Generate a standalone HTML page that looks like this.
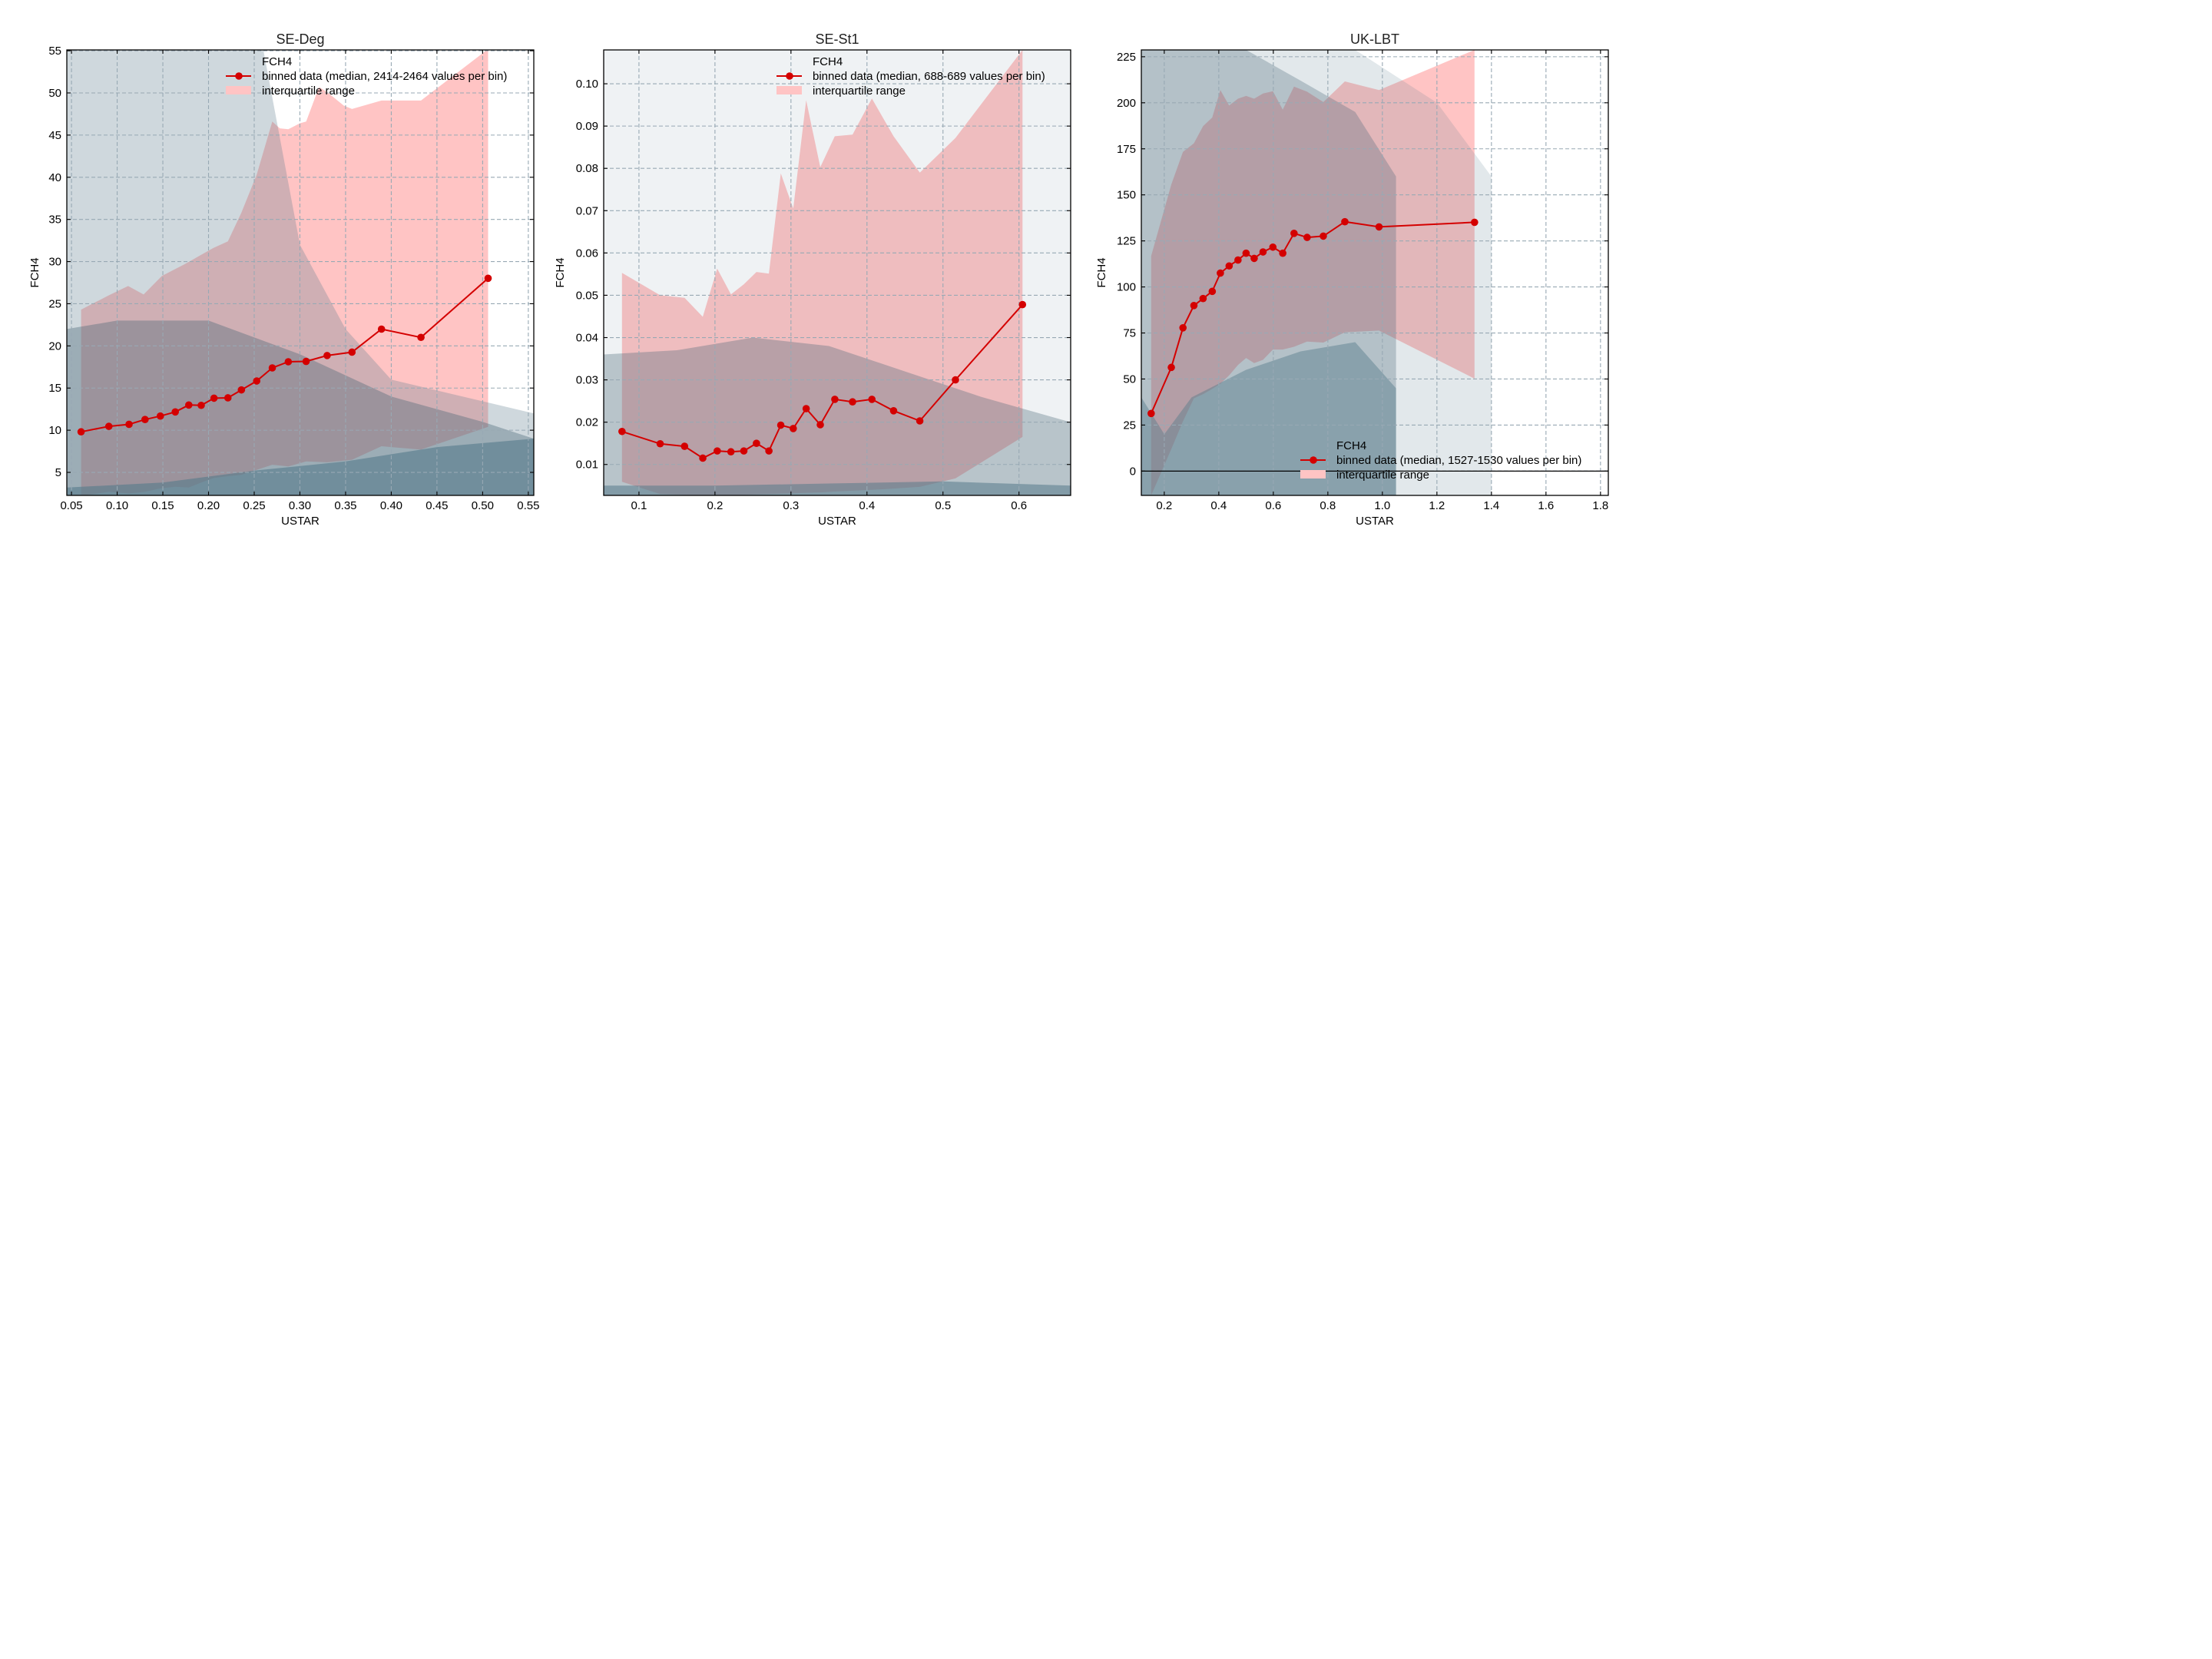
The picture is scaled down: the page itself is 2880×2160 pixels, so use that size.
<!DOCTYPE html>
<html><head><meta charset="utf-8"><title>FCH4 vs USTAR</title>
<style>
html,body{margin:0;padding:0;background:#fff;}
svg{display:block;font-family:"Liberation Sans",Arial,sans-serif;}
</style></head>
<body>
<svg id="fig" width="2880" height="2160" viewBox="0 0 2880 2160" xmlns="http://www.w3.org/2000/svg">
<rect x="0" y="0" width="2880" height="2160" fill="#ffffff"/>
</svg>
<script>
// ---------- Panel 1: SE-Deg ----------
const p1Title = "SE-Deg";
const p1Legend = "binned data (median, 2414-2464 values per bin)";
const p1X = [0.0605,0.0909,0.113,0.1305,0.1473,0.1636,0.1784,0.192,0.206,0.2212,0.236,0.2527,0.2698,0.2873,0.3068,0.3298,0.357,0.3893,0.4325,0.506];
const p1Median = [9.81,10.46,10.70,11.27,11.68,12.17,12.99,12.95,13.80,13.84,14.78,15.84,17.39,18.12,18.16,18.86,19.26,21.99,21.01,28.02];
const p1Q3X = [0.0605,0.0909,0.112,0.129,0.149,0.174,0.205,0.2212,0.236,0.2527,0.2698,0.278,0.2873,0.300,0.3068,0.321,0.3298,0.348,0.357,0.3893,0.4325,0.506];
const p1Q3 = [24.3,26.0,27.1,26.1,28.3,29.7,31.6,32.4,35.8,40.3,46.6,45.8,45.7,46.4,46.6,50.7,50.1,48.5,48.1,49.1,49.1,55.2];
const p1Q1 = [2.2,2.7,2.5,2.7,3.1,3.3,3.2,3.8,4.35,4.55,4.7,5.3,5.9,5.7,6.3,6.2,6.5,8.1,7.7,10.4];
const p1XTicks = [0.05,0.10,0.15,0.20,0.25,0.30,0.35,0.40,0.45,0.50,0.55];
const p1XTickLabels = ["0.05","0.10","0.15","0.20","0.25","0.30","0.35","0.40","0.45","0.50","0.55"];
const p1YTicks = [5,10,15,20,25,30,35,40,45,50,55];
const p1YTickLabels = ["5","10","15","20","25","30","35","40","45","50","55"];
const p1Domain = [0.0449,0.556];
const p1Range = [2.27,55.1];
const p1CloudX = [0.045,0.2,0.26,0.30,0.35,0.40,0.556];
const p1CloudTop = [55.1,55.1,55.1,32,22,16,12];
const p1CoreX = [0.045,0.10,0.20,0.30,0.40,0.50,0.556];
const p1CoreTop = [22,23,23,19,14,11,9];
const p1BaseX = [0.045,0.15,0.25,0.35,0.45,0.556];
const p1BaseTop = [3.2,3.8,5.2,6.3,8,9];

// ---------- Panel 2: SE-St1 ----------
const p2Title = "SE-St1";
const p2Legend = "binned data (median, 688-689 values per bin)";
const p2X = [0.0777,0.1279,0.160,0.184,0.203,0.221,0.238,0.2546,0.271,0.2866,0.303,0.320,0.3386,0.3577,0.381,0.4065,0.435,0.4695,0.5164,0.6046];
const p2Median = [0.0178,0.0149,0.0143,0.0115,0.0132,0.0130,0.0132,0.0150,0.0132,0.0193,0.0185,0.0232,0.0194,0.0254,0.0248,0.0254,0.0227,0.0203,0.0300,0.0478];
const p2Q3 = [0.0553,0.0500,0.0494,0.0449,0.0563,0.0502,0.0526,0.0555,0.0551,0.0788,0.0705,0.0961,0.0803,0.0876,0.0880,0.0965,0.0876,0.0790,0.0872,0.1080];
const p2Q1 = [0.0059,0.0030,0.0028,0.0027,0.0027,0.0027,0.0028,0.0029,0.0030,0.0031,0.0032,0.0033,0.0034,0.0036,0.0038,0.0040,0.0043,0.0047,0.0067,0.0165];
const p2XTicks = [0.1,0.2,0.3,0.4,0.5,0.6];
const p2XTickLabels = ["0.1","0.2","0.3","0.4","0.5","0.6"];
const p2YTicks = [0.01,0.02,0.03,0.04,0.05,0.06,0.07,0.08,0.09,0.10];
const p2YTickLabels = ["0.01","0.02","0.03","0.04","0.05","0.06","0.07","0.08","0.09","0.10"];
const p2Domain = [0.0536,0.668];
const p2Range = [0.00269,0.108];
const p2CloudX = [0.0536,0.2,0.35,0.5,0.668];
const p2CloudTop = [0.108,0.108,0.108,0.108,0.108];
const p2CoreX = [0.0536,0.15,0.25,0.35,0.45,0.55,0.668];
const p2CoreTop = [0.036,0.037,0.04,0.038,0.032,0.026,0.02];
const p2BaseX = [0.0536,0.2,0.35,0.5,0.668];
const p2BaseTop = [0.005,0.005,0.0055,0.006,0.005];

// ---------- Panel 3: UK-LBT ----------
const p3Title = "UK-LBT";
const p3Legend = "binned data (median, 1527-1530 values per bin)";
const p3X = [0.152,0.2259,0.2686,0.3087,0.3423,0.376,0.4057,0.438,0.4704,0.5001,0.5298,0.5622,0.5984,0.6346,0.676,0.7239,0.7834,0.8623,0.9877,1.338];
const p3Median = [31.3,56.3,77.8,89.9,93.7,97.6,107.5,111.4,114.6,118.3,115.5,119.0,121.6,118.3,129.1,126.9,127.6,135.4,132.6,135.1];
const p3Q3 = [116.8,155.6,173.3,178,187.3,192,206.9,198.5,202.2,203.7,202.2,205,206.3,196.3,208.8,206,200.4,211.6,206.9,228.7];
const p3Q1 = [-13.2,12,27,39.5,41.8,44.6,47.4,52,57.6,61.4,58.6,60.4,66,66,67.5,70.3,69.8,75.4,76.3,50.2];
const p3XTicks = [0.2,0.4,0.6,0.8,1.0,1.2,1.4,1.6,1.8];
const p3XTickLabels = ["0.2","0.4","0.6","0.8","1.0","1.2","1.4","1.6","1.8"];
const p3YTicks = [0,25,50,75,100,125,150,175,200,225];
const p3YTickLabels = ["0","25","50","75","100","125","150","175","200","225"];
const p3Domain = [0.1159,1.8286];
const p3Range = [-13.2,228.7];
const p3CloudX = [0.116,0.5,0.9,1.2,1.4];
const p3CloudTop = [228.7,228.7,228.7,200,160];
const p3CoreX = [0.116,0.3,0.5,0.7,0.9,1.05];
const p3CoreTop = [228.7,228.7,228.7,212,195,160];
const p3BaseX = [0.116,0.2,0.3,0.5,0.7,0.9,1.05];
const p3BaseTop = [40,20,40,55,65,70,45];

const NS = "http://www.w3.org/2000/svg";
const svg = document.getElementById("fig");
function mk(tag, attrs, parent){
  const e = document.createElementNS(NS, tag);
  for (const k in attrs) e.setAttribute(k, attrs[k]);
  (parent||svg).appendChild(e);
  return e;
}
function poly(xs, tops, bots, sx, sy){
  let pts = [];
  for (let i=0;i<xs.length;i++) pts.push(sx(xs[i]).toFixed(1)+","+sy(tops[i]).toFixed(1));
  for (let i=xs.length-1;i>=0;i--) pts.push(sx(xs[i]).toFixed(1)+","+sy(bots[i]).toFixed(1));
  return pts.join(" ");
}

function drawPanel(o){
  const L=o.left, T=65, W=608, H=580;
  const sx = v => L + (v-o.domain[0])/(o.domain[1]-o.domain[0])*W;
  const sy = v => T + H - (v-o.range[0])/(o.range[1]-o.range[0])*H;
  const g = mk("g",{});
  
  
  const clipId = o.key+"-clip";
  const cp = mk("clipPath",{id:clipId}, g);
  mk("rect",{x:L,y:T,width:W,height:H}, cp);
  const plot = mk("g",{"clip-path":"url(#"+clipId+")"}, g);
  
  

  const qx = o.q3x||o.x;
  let ipts=[];
  for(let i=0;i<qx.length;i++) ipts.push(sx(qx[i]).toFixed(1)+","+sy(o.q3[i]).toFixed(1));
  for(let i=o.x.length-1;i>=0;i--) ipts.push(sx(o.x[i]).toFixed(1)+","+sy(o.q1[i]).toFixed(1));
  const iqr = mk("polygon",{points:ipts.join(" "),fill:"#ffc4c4"}, plot);
  
  

  const lo = o.range[0];
  const c1 = mk("polygon",{points:poly(o.cloudX,o.cloudTop,o.cloudX.map(()=>lo),sx,sy),fill:"#5f7f8f","fill-opacity":o.cloudA}, plot);
  
  
  const c2 = mk("polygon",{points:poly(o.coreX,o.coreTop,o.coreX.map(()=>lo),sx,sy),fill:"#4a6676","fill-opacity":o.coreA}, plot);
  
  
  const c3 = mk("polygon",{points:poly(o.baseX,o.baseTop,o.baseX.map(()=>lo),sx,sy),fill:"#557a8a","fill-opacity":o.baseA}, plot);
  
  

  o.xt.forEach(v=>{
    const l = mk("line",{x1:sx(v),x2:sx(v),y1:T,y2:T+H,stroke:"#98a9b4","stroke-width":1.1,"stroke-dasharray":"5,3"}, plot);
    
    
  });
  o.yt.forEach(v=>{
    const l = mk("line",{x1:L,x2:L+W,y1:sy(v),y2:sy(v),stroke:"#98a9b4","stroke-width":1.1,"stroke-dasharray":"5,3"}, plot);
    
    
  });
  if (o.zeroLine){
    const z = mk("line",{x1:L,x2:L+W,y1:sy(0),y2:sy(0),stroke:"#000","stroke-width":1.3}, plot);
    
    
  }
  const mp = o.x.map((v,i)=>sx(v).toFixed(1)+","+sy(o.med[i]).toFixed(1)).join(" ");
  const ml = mk("polyline",{points:mp,fill:"none",stroke:"#d40000","stroke-width":2}, plot);
  
  
  o.x.forEach((v,i)=>{
    const c = mk("circle",{cx:sx(v),cy:sy(o.med[i]),r:4.8,fill:"#d40000"}, plot);
    
    
  });

  const fr = mk("rect",{x:L,y:T,width:W,height:H,fill:"none",stroke:"#000","stroke-width":1.3}, g);
  
  
  o.xt.forEach((v,i)=>{
    const x = sx(v);
    mk("line",{x1:x,x2:x,y1:T+H,y2:T+H-5,stroke:"#000","stroke-width":1.1}, g);
    mk("line",{x1:x,x2:x,y1:T,y2:T+5,stroke:"#000","stroke-width":1.1}, g);
    const t = mk("text",{x:x,y:T+H+18,"text-anchor":"middle","font-size":15,fill:"#000"}, g);
    t.textContent = o.xl[i];
    
    
  });
  o.yt.forEach((v,i)=>{
    const y = sy(v);
    mk("line",{x1:L,x2:L+5,y1:y,y2:y,stroke:"#000","stroke-width":1.1}, g);
    mk("line",{x1:L+W,x2:L+W-5,y1:y,y2:y,stroke:"#000","stroke-width":1.1}, g);
    const t = mk("text",{x:L-7,y:y+5,"text-anchor":"end","font-size":15,fill:"#000"}, g);
    t.textContent = o.yl[i];
    
    
  });
  const ti = mk("text",{x:L+W/2,y:57,"text-anchor":"middle","font-size":18,fill:"#222"}, g);
  ti.textContent = o.title;
  
  
  const xl = mk("text",{x:L+W/2,y:683,"text-anchor":"middle","font-size":15,fill:"#000"}, g);
  xl.textContent = "USTAR";
  
  
  const yl = mk("text",{x:0,y:0,"text-anchor":"middle","font-size":15,fill:"#000",transform:"translate("+(L-o.ylabOff)+","+(T+H/2)+") rotate(-90)"}, g);
  yl.textContent = "FCH4";
  
  

  const lg = mk("g",{}, g);
  
  
  const lx = o.legX, ly = o.legY;
  const h = mk("text",{x:lx+47,y:ly+5,"font-size":15,fill:"#000"}, lg);
  h.textContent = "FCH4";
  
  
  mk("line",{x1:lx,x2:lx+33,y1:ly+19,y2:ly+19,stroke:"#d40000","stroke-width":2}, lg);
  mk("circle",{cx:lx+17,cy:ly+19,r:4.8,fill:"#d40000"}, lg);
  const t2 = mk("text",{x:lx+47,y:ly+24,"font-size":15,fill:"#000"}, lg);
  t2.textContent = o.legend;
  
  
  mk("rect",{x:lx,y:ly+32,width:33,height:11,fill:"#ffc4c4"}, lg);
  const t3 = mk("text",{x:lx+47,y:ly+43,"font-size":15,fill:"#000"}, lg);
  t3.textContent = "interquartile range";
  
  
}

drawPanel({key:"se-deg",left:87,title:p1Title,legend:p1Legend,x:p1X,med:p1Median,q3x:p1Q3X,q3:p1Q3,q1:p1Q1,
  xt:p1XTicks,xl:p1XTickLabels,yt:p1YTicks,yl:p1YTickLabels,domain:p1Domain,range:p1Range,
  cloudX:p1CloudX,cloudTop:p1CloudTop,coreX:p1CoreX,coreTop:p1CoreTop,baseX:p1BaseX,baseTop:p1BaseTop,
  cloudA:0.3,coreA:0.38,baseA:0.6,legX:294,legY:80,ylabOff:37});
drawPanel({key:"se-st1",left:786,title:p2Title,legend:p2Legend,x:p2X,med:p2Median,q3:p2Q3,q1:p2Q1,
  xt:p2XTicks,xl:p2XTickLabels,yt:p2YTicks,yl:p2YTickLabels,domain:p2Domain,range:p2Range,
  cloudX:p2CloudX,cloudTop:p2CloudTop,coreX:p2CoreX,coreTop:p2CoreTop,baseX:p2BaseX,baseTop:p2BaseTop,
  cloudA:0.1,coreA:0.33,baseA:0.55,legX:1011,legY:80,ylabOff:52});
drawPanel({key:"uk-lbt",left:1486,title:p3Title,legend:p3Legend,x:p3X,med:p3Median,q3:p3Q3,q1:p3Q1,
  xt:p3XTicks,xl:p3XTickLabels,yt:p3YTicks,yl:p3YTickLabels,domain:p3Domain,range:p3Range,
  cloudX:p3CloudX,cloudTop:p3CloudTop,coreX:p3CoreX,coreTop:p3CoreTop,baseX:p3BaseX,baseTop:p3BaseTop,
  zeroLine:true,
  cloudA:0.18,coreA:0.3,baseA:0.45,legX:1693,legY:580,ylabOff:47});
</script>
</body></html>
